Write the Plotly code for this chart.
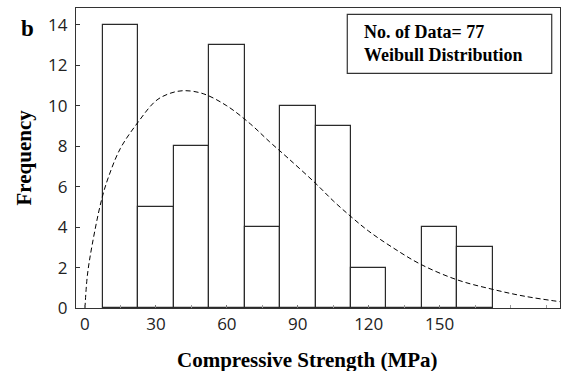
import plotly.graph_objects as go

# Histogram data (bin centres in MPa, bin width 15)
bin_centers = [15, 30, 45, 60, 75, 90, 105, 120, 135, 150, 165]
frequencies = [14, 5, 8, 13, 4, 10, 9, 2, 0, 4, 3]
bin_width = 15

# Fitted Weibull curve
curve_x = [0, 1, 3, 7, 10, 15, 22.5, 30, 36, 42, 50, 60, 70, 78, 86, 97.5,
           105, 112.5, 120, 130, 142, 157.5, 172.5, 186, 201]
curve_y = [0, 1.6, 3.1, 5.35, 6.5, 7.9, 9.2, 10.25, 10.62, 10.75, 10.6, 10.0,
           9.1, 8.23, 7.4, 6.17, 5.3, 4.52, 3.8, 3.0, 2.16, 1.39, 0.92, 0.58, 0.31]

x_ticks = [0, 30, 60, 90, 120, 150]
y_ticks = [0, 2, 4, 6, 8, 10, 12, 14]

serif = "Liberation Serif, Times New Roman, serif"
sans = "Open Sans, sans-serif"

fig = go.Figure()
fig.add_trace(go.Bar(
    x=bin_centers, y=frequencies, width=[bin_width] * len(bin_centers),
    marker=dict(color="white", line=dict(color="#2a2a2a", width=1.2)),
    showlegend=False,
))
fig.add_trace(go.Scatter(
    x=curve_x, y=curve_y, mode="lines",
    line=dict(color="black", width=1, dash="5px,3px", shape="spline", smoothing=1.0),
    showlegend=False,
))

fig.update_layout(
    width=561, height=371,
    margin=dict(l=76, r=1, t=8, b=63),
    paper_bgcolor="white", plot_bgcolor="white",
    bargap=0,
    xaxis=dict(
        range=[-3.8, 200.9], tickvals=x_ticks, ticktext=[str(v) for v in x_ticks],
        showgrid=False, zeroline=False, showline=True, mirror=True,
        linecolor="#333", linewidth=1.2, ticks="inside", ticklen=3, tickcolor="#777",
        minor=dict(dtick=15, tick0=0, ticks="inside", ticklen=3, tickcolor="#999"),
        tickfont=dict(family=sans, size=17, color="#222"),
    ),
    yaxis=dict(
        range=[0, 14.84], tickvals=y_ticks,
        showgrid=False, zeroline=False, showline=True, mirror=True,
        linecolor="#333", linewidth=1.2, ticks="inside", ticklen=4, tickcolor="#333",
        ticklabelstandoff=4,
        tickfont=dict(family=sans, size=17, color="#222"),
    ),
    shapes=[dict(
        type="rect", xref="paper", yref="paper",
        x0=0.5605, x1=0.9829, y0=0.7823, y1=0.979,
        line=dict(color="#333", width=1.2), fillcolor="white", layer="above",
    )],
    annotations=[
        dict(text="<b>No. of Data= 77</b><br><b>Weibull Distribution</b>",
             xref="paper", yref="paper",
             x=0.5903, y=0.8833, xanchor="left", yanchor="middle", align="left",
             showarrow=False, font=dict(family=serif, size=18, color="black")),
        dict(text="<b>b</b>", xref="paper", yref="paper", x=-0.101, y=0.93,
             xanchor="center", yanchor="middle", showarrow=False,
             font=dict(family=serif, size=23, color="black")),
        dict(text="<b>Frequency</b>", xref="paper", yref="paper", x=-0.1054, y=0.5017,
             xanchor="center", yanchor="middle", textangle=-90, showarrow=False,
             font=dict(family=serif, size=21, color="black")),
        dict(text="<b>Compressive Strength (MPa)</b>", xref="paper", yref="paper",
             x=0.4783, y=-0.1733, xanchor="center", yanchor="middle", showarrow=False,
             font=dict(family=serif, size=21, color="black")),
    ],
)

fig.write_html("out.html")
